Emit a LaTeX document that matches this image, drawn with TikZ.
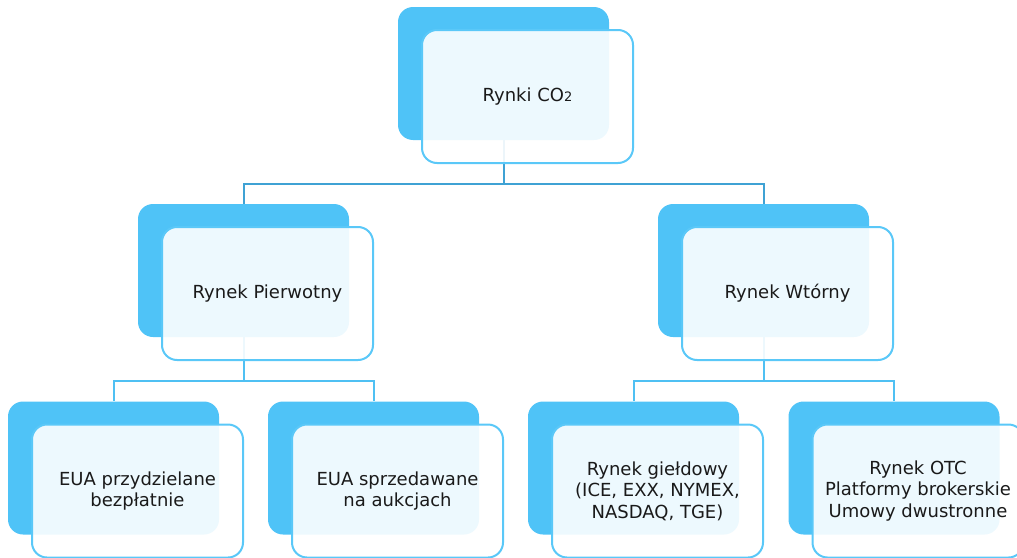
\documentclass[tikz,border=0pt]{standalone}
\usepackage{fontspec}
\setmainfont{DejaVu Sans}
\usetikzlibrary{calc}
\usetikzlibrary{backgrounds}

\definecolor{boxblue}{HTML}{4FC3F7}
\definecolor{edgeblue}{HTML}{5AC8F8}
\definecolor{linkdark}{HTML}{3FA2D4}
\definecolor{linklight}{HTML}{4FC0F3}
\definecolor{txt}{HTML}{1A1A1A}

\begin{document}
\begin{tikzpicture}[x=.5pt,y=-.5pt,
	back/.style={rectangle,rounded corners=7.5pt,fill=boxblue,draw=none,inner sep=0pt,
		minimum width=105.5pt,minimum height=66.5pt},
	front/.style={rectangle,rounded corners=7.5pt,fill=white,fill opacity=.9,text opacity=1,
		draw=edgeblue,draw opacity=1,line width=1pt,inner sep=0pt,
		minimum width=105.5pt,minimum height=66.5pt,align=center,text=txt,
		font=\fontsize{9}{10.8}\selectfont},
	link/.style={line width=1pt,draw=linkdark},
	sublink/.style={line width=1pt,draw=linklight}]
	\useasboundingbox (0,0) rectangle (1017,557);
	%% back boxes
	\node[back] (b0) at (503.5,73.5) {};
	\node[back] (b1) at (243.5,270.5) {};
	\node[back] (b2) at (763.5,270.5) {};
	\node[back] (b3) at (113.5,468) {};
	\node[back] (b4) at (373.5,468) {};
	\node[back] (b5) at (633.5,468) {};
	\node[back] (b6) at (894,468) {};
	%% front boxes
	\node[front] (f0) at ([shift={(24,23)}]b0.center) {Rynki CO{\fontsize{6.5}{7}\selectfont 2}};
	\node[front] (f1) at ([shift={(24,23)}]b1.center) {Rynek Pierwotny};
	\node[front] (f2) at ([shift={(24,23)}]b2.center) {Rynek Wtórny};
	\node[front] (f3) at ([shift={(24,23)}]b3.center) {EUA przydzielane\\bezpłatnie};
	\node[front] (f4) at ([shift={(24,23)}]b4.center) {EUA sprzedawane\\na aukcjach};
	\node[front] (f5) at ([shift={(24,23)}]b5.center) {Rynek giełdowy\\(ICE, EXX, NYMEX,\\NASDAQ, TGE)};
	\node[front] (f6) at ([shift={(24,23)}]b6.center) {Rynek OTC\\Platformy brokerskie\\Umowy dwustronne};
	% polaczenia
	\begin{scope}[on background layer]
		\coordinate (h0) at ($(f0.south)!.5!(b1.north)$);
		\coordinate (h1) at ($(f1.south)!.5!(b3.north)$);
		\coordinate (h2) at ($(f2.south)!.5!(b5.north)$);
		\draw[link] (b0.south) -- (b0.south |- h0) -| (b1.north);
		\draw[link] (b0.south) -- (b0.south |- h0) -| (b2.north);
		\draw[sublink] (b1.south) -- (b1.south |- h1) -| (b3.north);
		\draw[sublink] (b1.south) -- (b1.south |- h1) -| (b4.north);
		\draw[sublink] (b2.south) -- (b2.south |- h2) -| (b5.north);
		\draw[sublink] (b2.south) -- (b2.south |- h2) -| (b6.north);
	\end{scope}
\end{tikzpicture}
\end{document}
